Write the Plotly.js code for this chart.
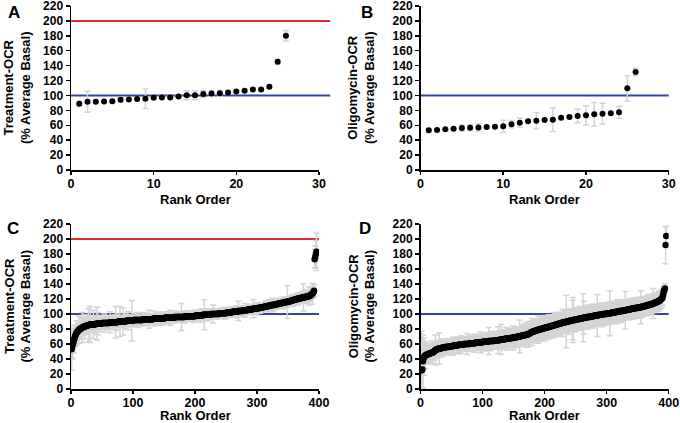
<!DOCTYPE html>
<html>
<head>
<meta charset="utf-8">
<script src="https://cdn.plot.ly/plotly-3.0.1.min.js"></script>
<style>html,body{margin:0;padding:0;background:#fff;}#chart{width:680px;height:423px;}</style>
</head>
<body>
<div id="chart"></div>
<script>
// ---------- Data ----------
var rankAB = [1,2,3,4,5,6,7,8,9,10,11,12,13,14,15,16,17,18,19,20,21,22,23,24,25,26];
var treatA = [89,91.5,91.5,92,92.3,94.2,94.6,95.1,95.5,96.9,97.3,97.3,98.7,100.4,100.4,101.8,102.7,103.1,104,105.4,106.3,108,108,111.6,145.3,180.2];
var treatAErr = [3,14,1,1,2,3,1.5,1.5,13,1.5,1.5,1.5,1.5,6,6,5,4,4,2,1.5,1,2,1.5,2,3,7];
var oligoB = [53.2,53.7,54.5,55.4,56.3,56.8,57,57.7,58.1,58.6,61.3,63.5,65.3,66.2,67.1,67.5,70.2,71.1,72.4,73.3,74.7,75.6,76,77.4,109.5,131.5];
var oligoBErr = [2,1,1,1,4,4,5,1,1,8,5,6,1,11,1,16,1,1,9,13,16,14,1,8,17,5];

var treatC = [53,56,60,63,66,69,71,73,75,76,
77,78,79,80,80,81,81,82,82,83,
83,83,84,84,84,85,85,85,85,86,
86,86,86,86,86,86,86,86,86,87,
87,87,87,87,87,87,87,87,87,88,
88,88,88,88,88,88,88,88,88,88,
88,88,89,89,89,89,89,89,89,89,
89,89,89,89,89,90,90,90,90,90,
90,90,90,90,90,90,90,90,91,91,
91,91,91,91,91,91,91,91,91,91,
92,92,92,92,92,92,92,92,92,92,
92,92,92,92,92,93,93,93,93,93,
93,93,93,93,93,93,93,93,93,93,
93,93,94,94,94,94,94,94,94,94,
94,94,94,94,94,94,94,94,94,94,
95,95,95,95,95,95,95,95,95,95,
95,95,95,95,95,95,96,96,96,96,
96,96,96,96,96,96,96,96,96,96,
96,96,96,97,97,97,97,97,97,97,
97,97,97,97,97,97,97,97,97,97,
98,98,98,98,98,98,98,98,98,98,
98,98,99,99,99,99,99,99,99,99,
99,99,99,99,99,100,100,100,100,100,
100,100,100,100,100,100,100,100,101,101,
101,101,101,101,101,101,101,101,101,101,
102,102,102,102,102,102,102,102,102,103,
103,103,103,103,103,103,103,103,104,104,
104,104,104,104,104,104,105,105,105,105,
105,105,105,105,106,106,106,106,106,106,
106,106,107,107,107,107,107,107,107,107,
108,108,108,108,108,109,109,109,109,109,
109,110,110,110,110,110,110,111,111,111,
111,111,112,112,112,112,112,112,113,113,
113,113,113,114,114,114,114,114,114,115,
115,115,115,115,116,116,116,116,116,116,
117,117,117,117,118,118,118,118,119,119,
119,119,120,120,120,120,121,121,121,121,
121,122,122,122,122,122,122,123,123,123,
123,123,124,124,124,125,125,126,127,128,
129,131,173,176,180,183];

var treatCErr = [28,15,20,12,18,10,14,8,16,6,
10,12,18,5,9,14,7,20,6,11,
8,16,5,10,7,12,6,22,9,5,
24,6,8,4,10,19,5,7,12,4,
6,22,15,5,8,4,7,11,5,6,
4,8,5,12,6,4,9,5,7,3,
8,5,14,4,6,9,5,7,4,10,
5,21,4,6,11,5,3,7,20,6,
4,8,5,18,6,4,10,5,7,4,
6,12,4,8,5,4,6,27,7,5,
4,6,9,5,3,7,4,10,5,6,
8,4,5,7,3,6,9,4,5,8,
4,6,3,7,5,12,4,6,5,3,
7,4,6,10,5,3,8,4,6,5,
3,7,5,4,9,6,4,5,8,3,
6,4,7,5,3,8,5,4,6,10,
5,4,7,3,6,5,8,4,5,6,
4,7,5,3,6,5,5,18,7,5,
6,4,8,5,3,6,4,7,5,4,
6,5,3,7,4,6,5,8,4,5,
4,6,5,3,7,4,6,5,9,4,
5,4,4,6,20,7,5,4,6,5,
8,4,5,3,6,4,7,5,12,4,
5,6,3,4,7,5,4,6,5,3,
6,4,7,5,4,6,3,5,8,4,
5,4,6,3,7,5,4,6,5,4,
7,5,3,6,4,5,8,4,6,13,
4,6,5,3,7,4,6,5,4,9,
5,4,6,5,3,7,4,6,5,4,
6,5,4,12,3,6,5,4,8,5,
4,6,5,3,7,4,6,5,4,6,
5,4,7,5,3,6,4,5,8,4,
6,5,4,7,9,5,4,6,5,4,
7,5,4,6,5,3,7,5,4,6,
5,4,8,6,5,4,7,5,22,6,
4,6,5,7,4,6,5,8,4,6,
5,7,4,6,5,8,6,5,7,4,
6,5,8,4,18,7,5,9,6,5,
7,5,6,12,5,8,6,5,14,7,
6,8,12,15,18,25];

var oligoD = [25,25,26,37,41,43,44,45,45,46,
46,46,47,47,47,48,48,48,49,49,
49,50,51,52,52,53,53,53,54,54,
54,54,54,55,55,55,55,55,56,56,
56,56,56,56,56,57,57,57,57,57,
57,57,58,58,58,58,58,58,58,58,
59,59,59,59,59,59,59,59,59,60,
60,60,60,60,60,60,60,60,61,61,
61,61,61,61,61,61,61,61,62,62,
62,62,62,62,62,62,62,62,62,63,
63,63,63,63,63,63,63,63,63,64,
64,64,64,64,64,64,64,64,65,65,
65,65,65,65,65,65,65,66,66,66,
66,66,66,66,66,67,67,67,67,67,
67,67,67,68,68,68,68,68,68,69,
69,69,69,69,69,70,70,70,70,70,
70,71,71,71,71,71,72,72,72,72,
72,73,73,73,74,74,75,75,76,76,
76,77,77,77,78,78,78,78,79,79,
79,79,80,80,80,80,81,81,81,81,
82,82,82,82,82,83,83,83,83,84,
84,84,84,85,85,85,85,86,86,86,
86,87,87,87,87,88,88,88,88,89,
89,89,89,89,90,90,90,90,90,91,
91,91,91,91,92,92,92,92,92,93,
93,93,93,93,93,94,94,94,94,94,
94,95,95,95,95,95,95,96,96,96,
96,96,96,97,97,97,97,97,97,98,
98,98,98,98,98,98,99,99,99,99,
99,99,99,100,100,100,100,100,100,100,
101,101,101,101,101,101,101,102,102,102,
102,102,102,102,103,103,103,103,103,103,
104,104,104,104,104,104,105,105,105,105,
105,105,106,106,106,106,106,106,107,107,
107,107,107,107,108,108,108,108,108,108,
109,109,109,109,109,109,110,110,110,110,
110,111,111,111,111,112,112,112,112,113,
113,113,113,114,114,114,115,115,115,116,
116,116,117,117,118,118,119,120,121,122,
126,130,132,134,192,204];

var oligoDErr = [30,52,25,35,15,25,10,18,8,12,
10,6,14,8,5,12,7,9,15,6,
8,11,5,20,7,9,6,12,5,21,
10,6,9,5,12,7,4,8,10,6,
5,9,7,11,6,4,8,6,10,5,
7,12,5,8,6,9,4,7,11,6,
8,5,10,6,7,12,5,8,6,9,
6,10,5,8,14,7,6,9,5,8,
11,6,8,5,9,7,12,6,8,10,
5,9,7,11,6,8,14,7,9,6,
8,10,6,12,7,9,5,11,8,18,
10,7,13,8,6,9,11,7,10,8,
6,12,9,7,18,8,10,6,11,20,
7,13,8,10,6,12,9,15,7,11,
8,10,14,7,12,9,11,8,16,10,
9,12,7,14,10,8,13,11,9,22,
10,12,8,14,11,9,13,10,16,12,
9,14,11,17,10,13,12,9,15,18,
14,10,16,12,9,13,11,15,10,18,
12,14,10,16,11,13,15,12,10,17,
13,11,15,12,14,10,16,13,11,15,
12,14,10,17,13,11,15,12,14,10,
16,12,13,11,15,12,14,10,18,13,
11,15,12,14,35,16,13,11,17,12,
14,12,15,11,26,30,14,12,16,11,
13,15,12,14,11,16,13,12,15,11,
14,32,22,13,11,15,12,14,10,16,
13,11,15,12,14,10,16,12,13,11,
15,12,14,10,28,13,11,15,12,14,
10,16,12,13,11,15,12,14,10,13,
12,14,11,15,30,10,14,12,13,11,
15,12,14,10,13,11,16,12,14,10,
13,11,15,12,14,10,13,12,11,25,
12,10,13,11,14,12,10,13,11,12,
14,10,12,11,13,10,12,14,11,10,
12,11,13,10,22,14,11,10,13,12,
10,12,11,13,10,12,11,14,10,12,
11,13,10,12,20,10,12,13,11,10,
12,11,10,13,12,11,10,12,11,10,
8,6,5,6,25,12];

var rankCD = treatC.map(function (_, i) { return i + 1; });

var ticksAB = [0, 10, 20, 30];
var ticksCD = [0, 100, 200, 300, 400];
var ticksY = [0, 20, 40, 60, 80, 100, 120, 140, 160, 180, 200, 220];
var yTitleTreat = 'Treatment-OCR<br>(% Average Basal)';
var yTitleOligo = 'Oligomycin-OCR<br>(% Average Basal)';
var xTitle = 'Rank Order';
var panelLetters = ['A', 'B', 'C', 'D'];
var basalLine = 100;
var upperLine = 200;

// ---------- Styles ----------
var FONT = 'Liberation Sans, Arial, Helvetica, sans-serif';
var ERR_COLOR = '#d4d4d4';
var RED = '#e3262c';
var BLUE = '#33479a';

function trace(x, y, err, xa, ya, msize) {
  return {
    x: x, y: y, type: 'scatter', mode: 'markers',
    xaxis: xa, yaxis: ya,
    marker: { color: '#000', size: msize, line: { width: 0 } },
    error_y: { type: 'data', array: err, visible: true, color: ERR_COLOR, thickness: 1.5, width: 3 },
    hoverinfo: 'skip'
  };
}

var data = [
  trace(rankAB, treatA, treatAErr, 'x', 'y', 6),
  trace(rankAB, oligoB, oligoBErr, 'x2', 'y2', 6),
  trace(rankCD, treatC, treatCErr, 'x3', 'y3', 6.5),
  trace(rankCD, oligoD, oligoDErr, 'x4', 'y4', 6.5)
];

function xAxis(domain, anchor, range, tickvals) {
  return {
    domain: domain, anchor: anchor, range: range, tickvals: tickvals,
    ticktext: tickvals.map(String),
    showgrid: false, zeroline: false, showline: true, linecolor: '#000', linewidth: 1.5,
    ticks: 'outside', ticklen: 3, tickwidth: 1.5, tickcolor: '#000',
    ticklabelstandoff: -2, ticklabeloverflow: 'allow',
    tickfont: { family: FONT, size: 12.5, color: '#000', weight: 'bold' },
    automargin: false, fixedrange: true
  };
}
function yAxis(domain, anchor) {
  return {
    domain: domain, anchor: anchor, range: [0, 220], tickvals: ticksY,
    showgrid: false, zeroline: false, showline: true, linecolor: '#000', linewidth: 1.5,
    ticks: 'outside', ticklen: 4, tickwidth: 1.5, tickcolor: '#000',
    ticklabeloverflow: 'allow',
    tickfont: { family: FONT, size: 12, color: '#000', weight: 'bold' },
    automargin: false, fixedrange: true
  };
}

var W = 680, H = 423;
var xdL = [71 / W, 319 / W], xdR = [420.5 / W, 668.7 / W];
var ydT = [1 - 170 / H, 1 - 6 / H], ydB = [1 - 389 / H, 1 - 224 / H];

function hline(xr, yr, y, color, x1) {
  return { type: 'line', xref: xr + ' domain', yref: yr, x0: 0, x1: x1, y0: y, y1: y,
           line: { color: color, width: 2 }, layer: 'below' };
}

function ann(text, x, y, size, angle) {
  return { text: text, x: x, y: y, xref: 'paper', yref: 'paper', showarrow: false,
           xanchor: 'center', yanchor: 'middle', textangle: angle || 0,
           font: { family: FONT, size: size, color: '#000', weight: 'bold' } };
}

var layout = {
  width: W, height: H, autosize: false,
  margin: { l: 0, r: 0, t: 0, b: 0, pad: 0 },
  paper_bgcolor: '#fff', plot_bgcolor: 'rgba(0,0,0,0)',
  showlegend: false,
  font: { family: FONT, color: '#000', weight: 'bold' },
  xaxis: xAxis(xdL, 'y', [0, 30], ticksAB),
  yaxis: yAxis(ydT, 'x'),
  xaxis2: xAxis(xdR, 'y2', [0, 30], ticksAB),
  yaxis2: yAxis(ydT, 'x2'),
  xaxis3: xAxis(xdL, 'y3', [0, 400], ticksCD),
  yaxis3: yAxis(ydB, 'x3'),
  xaxis4: xAxis(xdR, 'y4', [0, 400], ticksCD),
  yaxis4: yAxis(ydB, 'x4'),
  shapes: [
    hline('x', 'y', upperLine, RED, 1.045),
    hline('x', 'y', basalLine, BLUE, 1.045),
    hline('x2', 'y2', basalLine, BLUE, 1.0),
    hline('x3', 'y3', upperLine, RED, 1.0),
    hline('x3', 'y3', basalLine, BLUE, 1.0),
    hline('x4', 'y4', basalLine, BLUE, 1.0)
  ],
  annotations: [
    ann(panelLetters[0], 14 / W, 1 - 12.5 / H, 17),
    ann(panelLetters[1], 367 / W, 1 - 12.5 / H, 17),
    ann(panelLetters[2], 13 / W, 1 - 228 / H, 17),
    ann(panelLetters[3], 365 / W, 1 - 228 / H, 17),
    ann(yTitleTreat, 17 / W, 1 - 88 / H, 13, -90),
    ann(yTitleOligo, 361 / W, 1 - 88 / H, 13, -90),
    ann(yTitleTreat, 17 / W, 1 - 306.5 / H, 13, -90),
    ann(yTitleOligo, 361 / W, 1 - 306.5 / H, 13, -90),
    ann(xTitle, 195 / W, 1 - 199.5 / H, 13),
    ann(xTitle, 544.5 / W, 1 - 199.5 / H, 13),
    ann(xTitle, 195 / W, 1 - 415 / H, 13),
    ann(xTitle, 544.5 / W, 1 - 415 / H, 13)
  ]
};

Plotly.newPlot('chart', data, layout, { staticPlot: true, displayModeBar: false });
</script>
</body>
</html>
